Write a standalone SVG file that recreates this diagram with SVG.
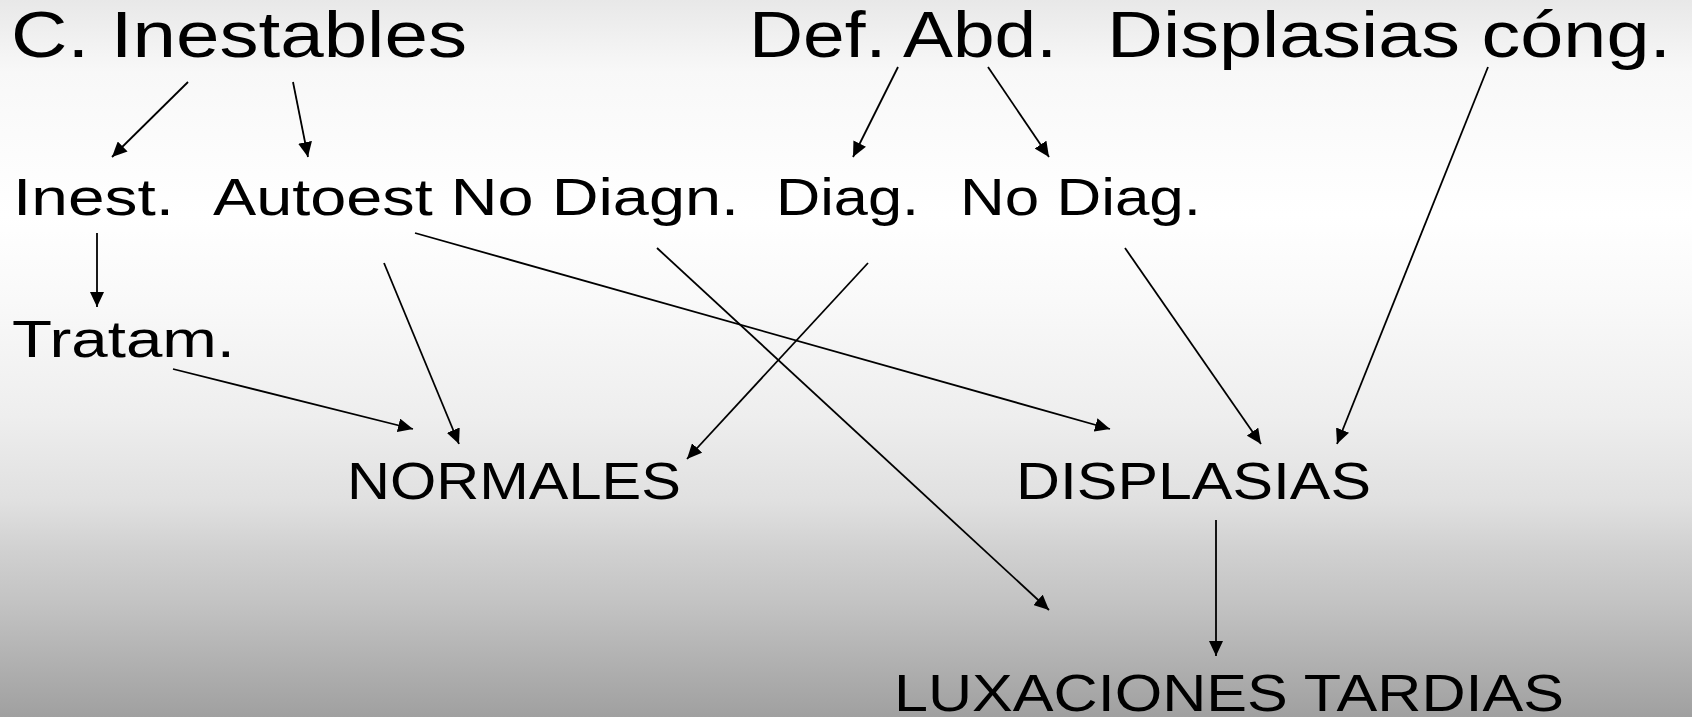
<svg xmlns="http://www.w3.org/2000/svg" width="1692" height="717" viewBox="0 0 1692 717">
<defs>
<linearGradient id="bg" x1="0" y1="0" x2="0" y2="1">
<stop offset="0" stop-color="#e8e8e8"/>
<stop offset="0.1" stop-color="#f8f8f8"/>
<stop offset="0.3" stop-color="#ffffff"/>
<stop offset="0.42" stop-color="#f9f9f9"/>
<stop offset="0.58" stop-color="#eeeeee"/>
<stop offset="0.7" stop-color="#e0e0e0"/>
<stop offset="0.77" stop-color="#d0d0d0"/>
<stop offset="0.84" stop-color="#c3c3c3"/>
<stop offset="1" stop-color="#a0a0a0"/>
</linearGradient>
<marker id="ah" markerUnits="userSpaceOnUse" markerWidth="16" markerHeight="14" refX="15" refY="7" orient="auto">
<path d="M0,0 L15,7 L0,14 z" fill="#000"/>
</marker>
</defs>
<style>
text { font-family: "Liberation Sans", Arial, sans-serif; fill: #000; }
.big { font-size: 65px; }
.med { font-size: 52px; }
.c line { stroke: #000; stroke-width: 1.8; marker-end: url(#ah); }
</style>
<rect x="0" y="0" width="1692" height="717" fill="url(#bg)"/>
<g id="n-cinestables"><text class="big" x="11" y="57" textLength="456" lengthAdjust="spacingAndGlyphs">C. Inestables</text></g>
<g id="n-defabd"><text class="big" x="749" y="57" textLength="308" lengthAdjust="spacingAndGlyphs">Def. Abd.</text></g>
<g id="n-displcong"><text class="big" x="1107" y="57" textLength="564" lengthAdjust="spacingAndGlyphs">Displasias cóng.</text></g>
<g id="n-inest"><text class="med" x="13" y="215" textLength="161" lengthAdjust="spacingAndGlyphs">Inest.</text></g>
<g id="n-autoest"><text class="med" x="213" y="215" textLength="526" lengthAdjust="spacingAndGlyphs">Autoest No Diagn.</text></g>
<g id="n-diag"><text class="med" x="776" y="215" textLength="143" lengthAdjust="spacingAndGlyphs">Diag.</text></g>
<g id="n-nodiag"><text class="med" x="960" y="215" textLength="241" lengthAdjust="spacingAndGlyphs">No Diag.</text></g>
<g id="n-tratam"><text class="med" x="12" y="357" textLength="223" lengthAdjust="spacingAndGlyphs">Tratam.</text></g>
<g id="n-normales"><text class="med" x="347" y="499" textLength="334" lengthAdjust="spacingAndGlyphs">NORMALES</text></g>
<g id="n-displasias"><text class="med" x="1016" y="499" textLength="355" lengthAdjust="spacingAndGlyphs">DISPLASIAS</text></g>
<g id="n-luxaciones"><text class="med" x="894" y="711" textLength="670" lengthAdjust="spacingAndGlyphs">LUXACIONES TARDIAS</text></g>
<g id="connectors" class="c">
<line x1="188" y1="82" x2="112" y2="157"/>
<line x1="293" y1="82" x2="308" y2="157"/>
<line x1="97" y1="233" x2="97" y2="307"/>
<line x1="173" y1="369" x2="413" y2="429"/>
<line x1="384" y1="263" x2="459" y2="444"/>
<line x1="415" y1="233" x2="1110" y2="429"/>
<line x1="657" y1="248" x2="1049" y2="610"/>
<line x1="868" y1="263" x2="687" y2="459"/>
<line x1="898" y1="67" x2="853" y2="157"/>
<line x1="988" y1="67" x2="1049" y2="157"/>
<line x1="1125" y1="248" x2="1261" y2="444"/>
<line x1="1488" y1="67" x2="1337" y2="444"/>
<line x1="1216" y1="520" x2="1216" y2="656"/>
</g>
</svg>
